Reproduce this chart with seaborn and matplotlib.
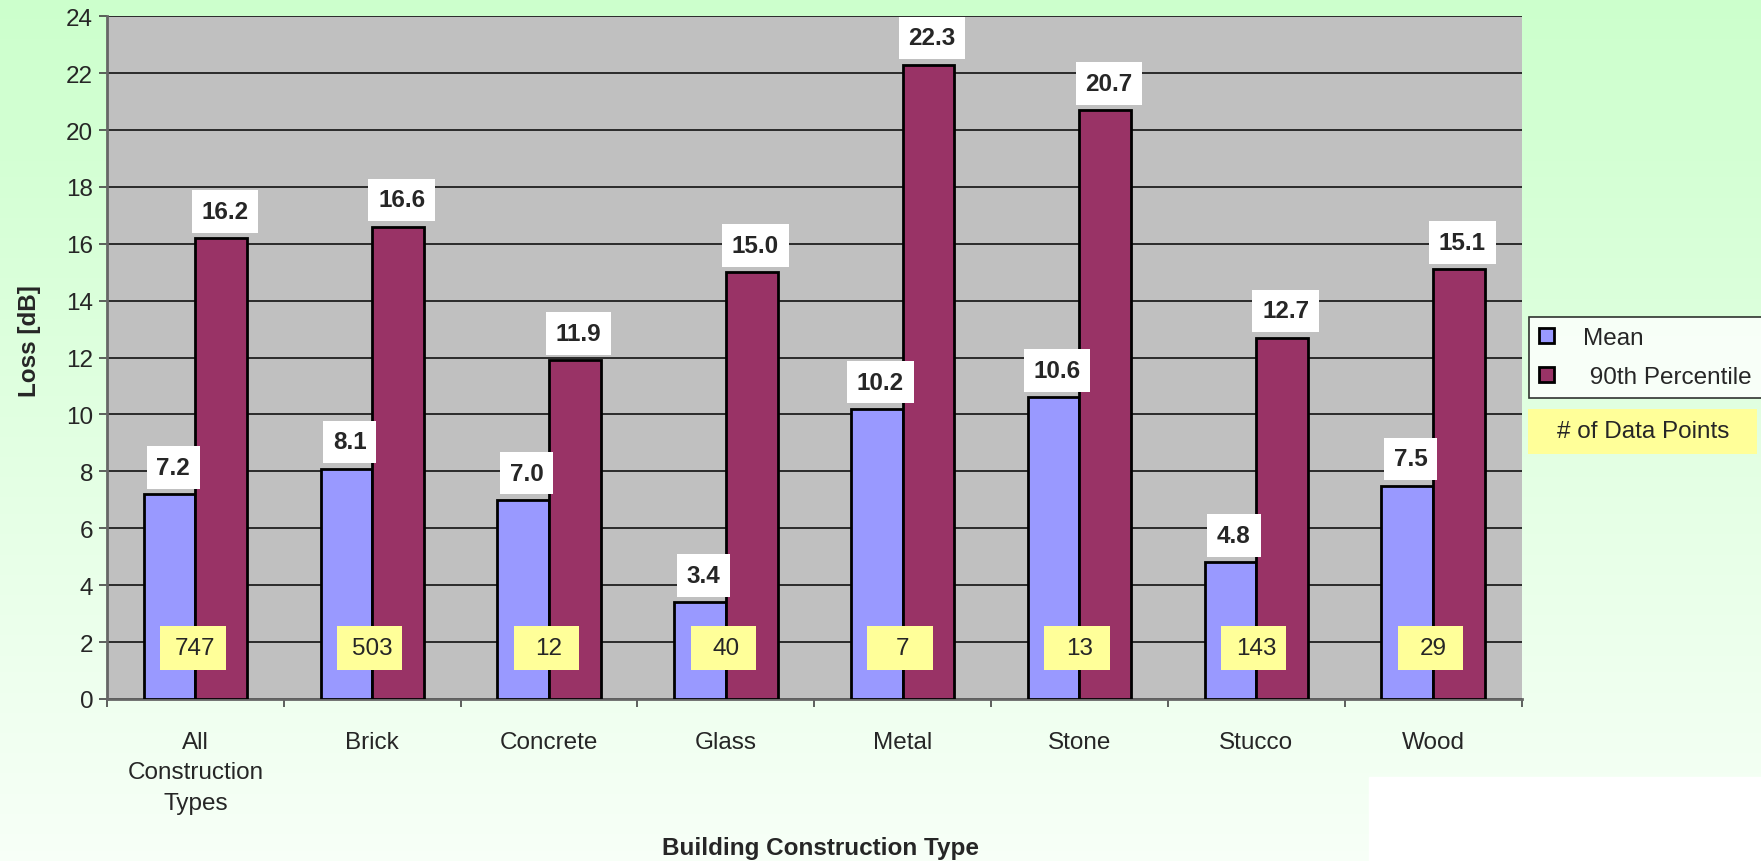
import numpy as np
import pandas as pd
import matplotlib
matplotlib.use("Agg")
import matplotlib.pyplot as plt
from matplotlib.patches import Rectangle
from matplotlib.ticker import FixedLocator
import seaborn as sns

CATEGORIES = ["All\nConstruction\nTypes", "Brick", "Concrete", "Glass",
              "Metal", "Stone", "Stucco", "Wood"]
MEAN_LOSS = [7.2, 8.1, 7.0, 3.4, 10.2, 10.6, 4.8, 7.5]
P90_LOSS = [16.2, 16.6, 11.9, 15.0, 22.3, 20.7, 12.7, 15.1]
N_POINTS = [747, 503, 12, 40, 7, 13, 143, 29]
SERIES = ["Mean", " 90th Percentile"]
COLORS = ["#9999ff", "#993366"]

sns.set_theme(style="white")
plt.rcParams["font.family"] = ["Liberation Sans", "DejaVu Sans"]
FS = 17.5

df = pd.DataFrame({
    "category": CATEGORIES * 2,
    "loss": MEAN_LOSS + P90_LOSS,
    "series": [SERIES[0]] * len(CATEGORIES) + [SERIES[1]] * len(CATEGORIES),
})

fig = plt.figure(figsize=(17.61, 8.62), dpi=100)

# green-to-white gradient background
bg = fig.add_axes([0, 0, 1, 1], zorder=-10)
grad = np.linspace(0, 1, 256).reshape(-1, 1)
top = np.array([0.80, 1.0, 0.80])
bot = np.array([0.97, 1.0, 0.97])
img = top + (bot - top) * grad[..., None]
bg.imshow(np.repeat(img, 2, axis=1), aspect="auto", extent=[0, 1, 0, 1])
bg.axis("off")
bg.add_patch(Rectangle((1369 / 1761, 0), 1, 1 - 778 / 862, color="white",
                       transform=bg.transAxes, zorder=2))

ax = fig.add_axes([0.0608, 0.188, 0.864 - 0.0608, 0.792])
sns.barplot(data=df, x="category", y="loss", hue="series", palette=COLORS,
            width=0.585, edgecolor="black", linewidth=2, saturation=1,
            ax=ax, legend=True, zorder=3)
ax.set_facecolor("#c0c0c0")
ax.set_ylim(0, 24)
ax.set_xlim(-0.5, len(CATEGORIES) - 0.5)
ax.set_yticks(range(0, 25, 2))
ax.yaxis.grid(True, color="#111111", linewidth=1.2, zorder=0)
ax.set_axisbelow(True)
ax.tick_params(axis="y", labelsize=FS, length=6, width=1.2, color="#444444",
               left=True, pad=4)
ax.tick_params(axis="x", which="major", labelsize=FS, length=0, pad=23)
for lbl in ax.get_xticklabels():
    lbl.set_linespacing(1.5)
ax.xaxis.set_minor_locator(FixedLocator(np.arange(-0.5, len(CATEGORIES), 1)))
ax.tick_params(axis="x", which="minor", length=6, width=1.2, color="#444444",
               bottom=True)
for side in ["top", "right"]:
    ax.spines[side].set_visible(False)
for side in ["left", "bottom"]:
    ax.spines[side].set_color("#666666")
    ax.spines[side].set_linewidth(2)

ax.set_ylabel("Loss [dB]", fontsize=FS, fontweight="bold")
ax.yaxis.set_label_coords(-0.0465, 0.525)
ax.set_xlabel("")
fig.text(820 / 1761, 1 - 849 / 862, "Building Construction Type",
         ha="center", va="center", fontsize=FS, fontweight="bold")

for cont in ax.containers:
    for bar in cont:
        h = bar.get_height()
        ax.annotate(f"{h:.1f}", (bar.get_x() + bar.get_width() / 2 + 0.02, h),
                    xytext=(0, 11), textcoords="offset points",
                    ha="center", va="bottom", fontsize=FS, fontweight="bold",
                    bbox=dict(boxstyle="square,pad=0.4", fc="white", ec="none"),
                    zorder=5)

# yellow count boxes: fixed width, like the original
for i, n in enumerate(N_POINTS):
    ax.add_patch(Rectangle((i - 0.2, 1.03), 0.37, 1.53, fc="#ffff99",
                           ec="none", zorder=4))
    ax.text(i, 1.8, f"{n}", ha="center", va="center", fontsize=FS, zorder=5)

handles, labels = ax.get_legend_handles_labels()
ax.get_legend().remove()
leg = fig.legend(handles, labels, loc="upper left",
                 bbox_to_anchor=(1529 / 1761, 1 - 318 / 862),
                 borderaxespad=0, fontsize=FS, frameon=True, fancybox=False,
                 edgecolor="black", handlelength=0.6, handleheight=0.6,
                 handletextpad=1.2, borderpad=0.42, labelspacing=0.7)
leg.get_frame().set_linewidth(1.2)

bg.add_patch(Rectangle((1528 / 1761, 1 - 455 / 862), 229 / 1761, 45 / 862,
                       fc="#ffff99", ec="none", transform=bg.transAxes,
                       zorder=3))
fig.text(1643 / 1761, 1 - 432 / 862, "# of Data Points", ha="center",
         va="center", fontsize=FS)

fig.savefig("out.png", dpi=100)
